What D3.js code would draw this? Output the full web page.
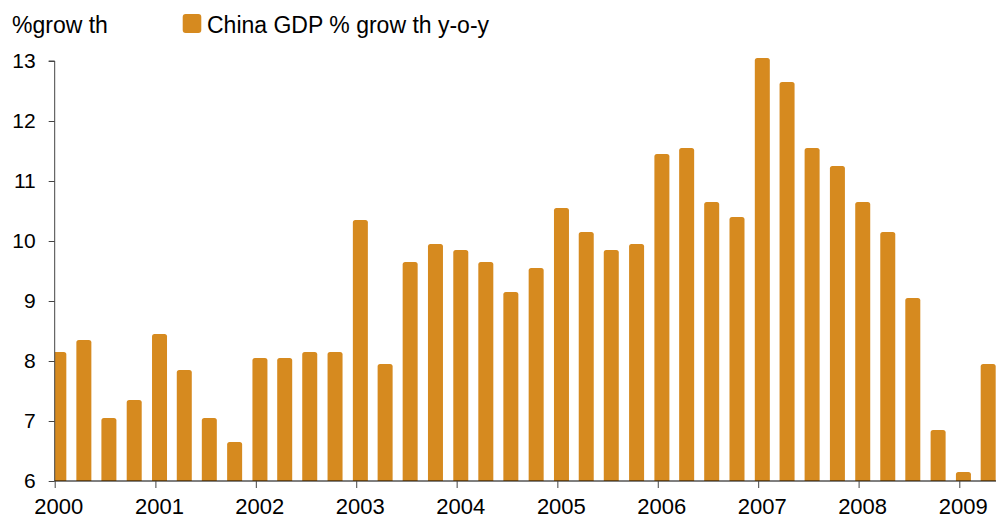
<!DOCTYPE html>
<html>
<head>
<meta charset="utf-8">
<script src="https://cdn.jsdelivr.net/npm/d3@7"></script>
<style>
  html, body { margin: 0; padding: 0; background: #fff; }
  svg { display: block; }
  text { font-family: "Liberation Sans", Arial, sans-serif; fill: #000; }
</style>
</head>
<body>
<script>
// ---- data ----
const quarters = [
  "2000Q1","2000Q2","2000Q3","2000Q4",
  "2001Q1","2001Q2","2001Q3","2001Q4",
  "2002Q1","2002Q2","2002Q3","2002Q4",
  "2003Q1","2003Q2","2003Q3","2003Q4",
  "2004Q1","2004Q2","2004Q3","2004Q4",
  "2005Q1","2005Q2","2005Q3","2005Q4",
  "2006Q1","2006Q2","2006Q3","2006Q4",
  "2007Q1","2007Q2","2007Q3","2007Q4",
  "2008Q1","2008Q2","2008Q3","2008Q4",
  "2009Q1","2009Q2"
];
const gdpGrowth = [
  8.15, 8.35, 7.05, 7.35,
  8.45, 7.85, 7.05, 6.65,
  8.05, 8.05, 8.15, 8.15,
  10.35, 7.95, 9.65, 9.95,
  9.85, 9.65, 9.15, 9.55,
  10.55, 10.15, 9.85, 9.95,
  11.45, 11.55, 10.65, 10.4,
  13.05, 12.65, 11.55, 11.25,
  10.65, 10.15, 9.05, 6.85,
  6.15, 7.95
];
const yearTicks = [2000, 2001, 2002, 2003, 2004, 2005, 2006, 2007, 2008, 2009];
const yTicks = [6, 7, 8, 9, 10, 11, 12, 13];
const seriesName = "China GDP % grow th y-o-y";
const yTitle = "%grow th";

// ---- layout ----
const W = 996, H = 520;
const mLeft = 54.7, mRight = 996, mTop = 61, mBottom = 481;
const barColor = "#D68A1F";

const svg = d3.select("body").append("svg").attr("width", W).attr("height", H);

const parseQ = s => new Date(+s.slice(0, 4), (+s.slice(5) - 1) * 3, 16);
const data = quarters.map((q, i) => ({ date: parseQ(q), value: gdpGrowth[i] }));

const x = d3.scaleTime()
  .domain([new Date(2000, 0, 1), new Date(2009, 0, 1)])
  .range([mLeft, 959.3]);
const y = d3.scaleLinear().domain([6, 13]).range([mBottom, mTop]);

const barW = 15;

svg.append("clipPath").attr("id", "plot")
  .append("rect").attr("x", mLeft).attr("y", 0).attr("width", mRight - mLeft).attr("height", mBottom);

svg.append("g").attr("clip-path", "url(#plot)")
  .selectAll("path").data(data).join("path")
  .attr("fill", barColor)
  .attr("d", d => {
    const cx = x(d.date), x0 = cx - barW / 2, x1 = cx + barW / 2;
    const yt = y(d.value), yb = y(6), r = 2.5;
    return `M${x0},${yb}V${yt + r}Q${x0},${yt} ${x0 + r},${yt}H${x1 - r}Q${x1},${yt} ${x1},${yt + r}V${yb}Z`;
  });

// y axis
const yAxis = svg.append("g").attr("transform", `translate(${mLeft},0)`)
  .call(d3.axisLeft(y).tickValues(yTicks).tickFormat(d3.format("d")).tickSize(6).tickPadding(13));
yAxis.select(".domain").attr("stroke", "#444").attr("d", `M-6,${mTop}H0V${mBottom}`);
yAxis.selectAll(".tick line").attr("stroke", "#444");
yAxis.selectAll(".tick text").attr("font-size", 21).attr("fill", "#000")
  .attr("font-family", "Liberation Sans, Arial, sans-serif");

// x axis
const xAxis = svg.append("g").attr("transform", `translate(0,${mBottom})`)
  .call(d3.axisBottom(x).tickValues(yearTicks.map(yr => new Date(yr, 0, 1))).tickFormat(d3.timeFormat("%Y")).tickSize(7).tickPadding(10));
xAxis.select(".domain").attr("stroke", "#000").attr("d", `M${mLeft},0H${mRight}`);
xAxis.selectAll(".tick line").attr("stroke", "#444");
xAxis.selectAll(".tick text").attr("font-size", 22).attr("fill", "#000")
  .attr("font-family", "Liberation Sans, Arial, sans-serif")
  .attr("dx", 3.5);

// title
svg.append("text").attr("x", 12).attr("y", 32.5).attr("font-size", 23).text(yTitle);

// legend
svg.append("rect").attr("x", 182.7).attr("y", 14).attr("width", 18.6).attr("height", 19)
  .attr("rx", 3).attr("fill", barColor);
svg.append("text").attr("x", 207).attr("y", 32.5).attr("font-size", 23).text(seriesName);
</script>
</body>
</html>
